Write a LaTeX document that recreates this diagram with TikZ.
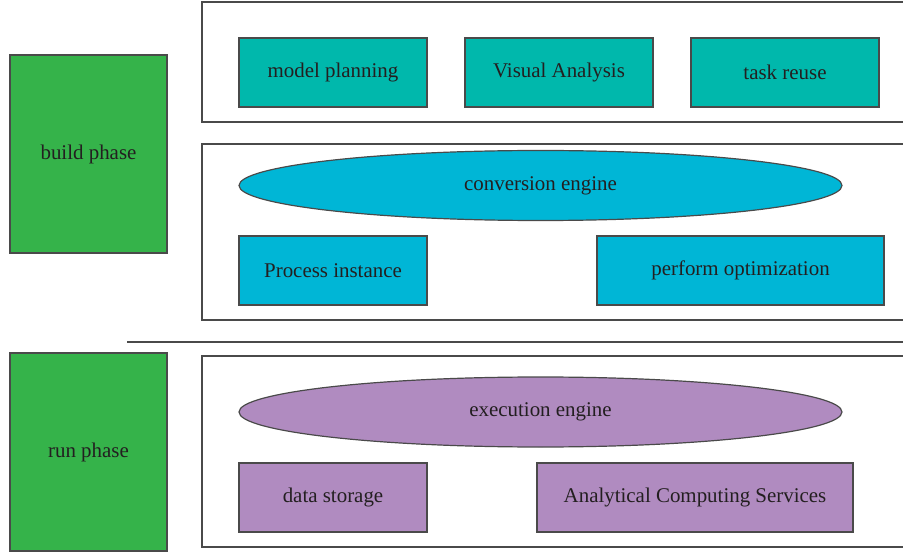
\documentclass[tikz,border=0pt]{standalone}
\usepackage{fontspec}
\setmainfont{Liberation Serif}
\usepackage{xcolor}
\usetikzlibrary{shapes.geometric}
\definecolor{vline}{HTML}{4a4a4a}
\definecolor{vgreen}{HTML}{35B34A}
\definecolor{vteal}{HTML}{00B8AC}
\definecolor{vcyan}{HTML}{00B6D6}
\definecolor{vpurple}{HTML}{B08BC0}
\definecolor{vtext}{HTML}{231F20}

\tikzset{
	every node/.style = {text = vtext, font = \fontsize{21}{24}\selectfont, inner sep = 0pt},
	phase/.style = {draw = vline, line width = 1.2bp, fill = vgreen, minimum width = 157bp, minimum height = 198bp},
	item/.style = {draw = vline, line width = 1.2bp, minimum height = 69bp},
	engine/.style = {draw = vline, line width = 1.2bp, ellipse, minimum width = 603bp, minimum height = 70bp}
}

\begin{document}
\begin{tikzpicture}[x=1bp, y=-1bp]
		\useasboundingbox (0,0) rectangle (903,552);
		\clip (0,0) rectangle (903,552);
		% containers
		\draw[draw = vline, line width = 1.2bp] (910,2) -- (202,2) -- (202,122) -- (910,122);
		\draw[draw = vline, line width = 1.2bp] (910,144) -- (202,144) -- (202,320) -- (910,320);
		\draw[draw = vline, line width = 1.2bp] (910,356) -- (202,356) -- (202,547) -- (910,547);
		\coordinate (sepL) at (127,342);
		\coordinate (sepR) at (910,342);
		\draw[draw = vline, line width = 1.2bp] (sepL) -- (sepR);
		% phases
		\node[phase] (build) at (88.5,154) {build phase};
		\node[phase] (run) at (88.5,452) {run phase};
		% build phase
		\node[item, fill = vteal, minimum width = 188bp] (planning) at (333,72.5) {model planning};
		\node[item, fill = vteal, minimum width = 188bp] (visual) at (559,72.5) {Visual Analysis};
		\node[item, fill = vteal, minimum width = 188bp] (reuse) at (785,72.5) {task reuse};
		\node[engine, fill = vcyan] (conversion) at (540.5,185.5) {conversion engine};
		\node[item, fill = vcyan, minimum width = 188bp] (instance) at (333,270.5) {Process instance};
		\node[item, fill = vcyan, minimum width = 287bp] (optim) at (740.5,270.5) {perform optimization};
		% run phase
		\node[engine, fill = vpurple] (execution) at (540.5,412) {execution engine};
		\node[item, fill = vpurple, minimum width = 188bp] (storage) at (333,497.5) {data storage};
		\node[item, fill = vpurple, minimum width = 316bp] (services) at (695,497.5) {Analytical Computing Services};
	\end{tikzpicture}
\end{document}
